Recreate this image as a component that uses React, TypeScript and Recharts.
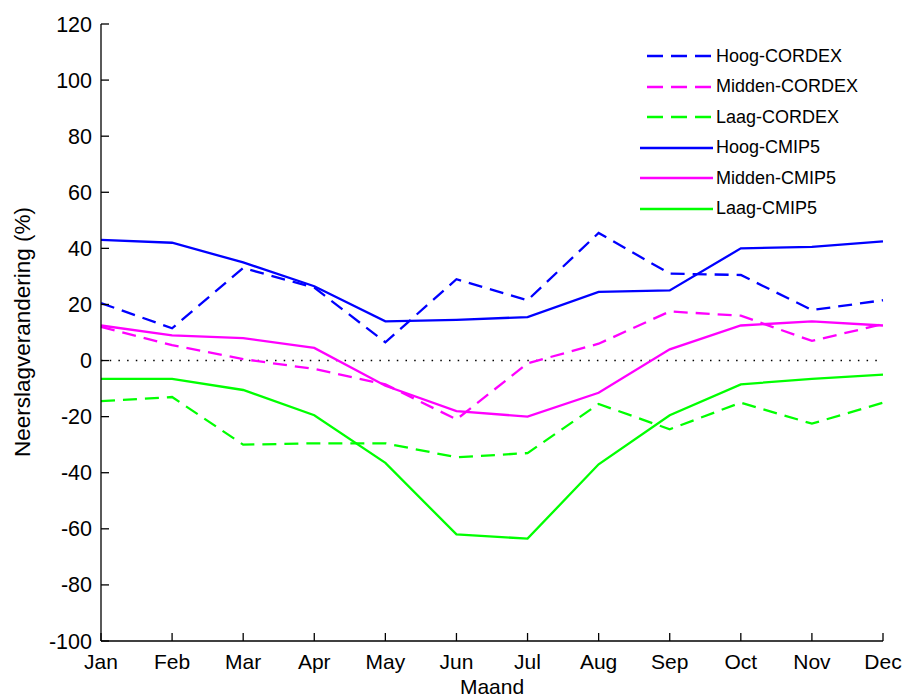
import React from "react";
import { LineChart, Line, XAxis, YAxis, ReferenceLine } from "recharts";

const months = ["Jan", "Feb", "Mar", "Apr", "May", "Jun", "Jul", "Aug", "Sep", "Oct", "Nov", "Dec"];

const hoogCordex = [20.5, 11.5, 33, 26, 6.5, 29, 21.5, 45.5, 31, 30.5, 18, 21.5];
const middenCordex = [12, 5.5, 0.5, -3, -8.5, -21, -1, 6, 17.5, 16, 7, 13];
const laagCordex = [-14.5, -13, -30, -29.5, -29.5, -34.5, -33, -15.5, -24.5, -15, -22.5, -15];
const hoogCmip5 = [43, 42, 35, 26.5, 14, 14.5, 15.5, 24.5, 25, 40, 40.5, 42.5];
const middenCmip5 = [12.5, 9, 8, 4.5, -9, -18, -20, -11.5, 4, 12.5, 14, 12.5];
const laagCmip5 = [-6.5, -6.5, -10.5, -19.5, -36.5, -62, -63.5, -37, -19.5, -8.5, -6.5, -5];

const yTicks = [-100, -80, -60, -40, -20, 0, 20, 40, 60, 80, 100, 120];

const BLUE = "#0000ff";
const MAGENTA = "#ff00ff";
const GREEN = "#00ff00";
const DASH = "14 8";
const FONT = "'Liberation Sans', Arial, sans-serif";

const series = [
  { key: "Hoog-CORDEX", values: hoogCordex, color: BLUE, dashed: true },
  { key: "Midden-CORDEX", values: middenCordex, color: MAGENTA, dashed: true },
  { key: "Laag-CORDEX", values: laagCordex, color: GREEN, dashed: true },
  { key: "Hoog-CMIP5", values: hoogCmip5, color: BLUE, dashed: false },
  { key: "Midden-CMIP5", values: middenCmip5, color: MAGENTA, dashed: false },
  { key: "Laag-CMIP5", values: laagCmip5, color: GREEN, dashed: false },
];

const data = months.map((m, i) => {
  const row: Record<string, string | number> = { month: m };
  series.forEach((s) => {
    row[s.key] = s.values[i];
  });
  return row;
});

// matlab-style ticks: short marks pointing into the plot, labels outside
function XTick({ x, y, payload }: any) {
  return (
    <g>
      <line x1={x} x2={x} y1={y} y2={y - 8} stroke="#000" strokeWidth={1.3} />
      <text x={x} y={y + 28} textAnchor="middle" fontSize={21} fontFamily={FONT} fill="#000">
        {payload.value}
      </text>
    </g>
  );
}

function YTick({ x, y, payload }: any) {
  return (
    <g>
      <line x1={x} x2={x + 8} y1={y} y2={y} stroke="#000" strokeWidth={1.3} />
      <text x={x - 9} y={y + 7.5} textAnchor="end" fontSize={21.5} fontFamily={FONT} fill="#000">
        {payload.value}
      </text>
    </g>
  );
}

// legend sits over the plot, so it lives outside the chart layout
function LegendBox() {
  return (
    <div
      style={{
        position: "absolute",
        left: 640,
        top: 41,
        fontFamily: FONT,
        fontSize: 18,
        color: "#000",
      }}
    >
      {series.map((s) => (
        <div key={s.key} style={{ display: "flex", alignItems: "center", height: 30.5 }}>
          <svg width={76} height={10}>
            <line
              x1={s.dashed ? 7 : 0}
              x2={73}
              y1={5}
              y2={5}
              stroke={s.color}
              strokeWidth={2.5}
              strokeDasharray={s.dashed ? "16 8" : undefined}
            />
          </svg>
          <span>{s.key}</span>
        </div>
      ))}
    </div>
  );
}

export default function App() {
  return (
    <div style={{ position: "absolute", left: 0, top: 0, width: 906, height: 700, background: "#fff" }}>
      <LineChart width={906} height={700} data={data} margin={{ top: 24, right: 23, bottom: 0, left: 0 }}>
        <XAxis
          dataKey="month"
          height={59}
          axisLine={{ stroke: "#000", strokeWidth: 1.3 }}
          tickLine={false}
          tickSize={0}
          tickMargin={0}
          tick={<XTick />}
          interval={0}
          label={{
            content: () => (
              <text x={492} y={694} textAnchor="middle" fontSize={21} fontFamily={FONT} fill="#000">
                Maand
              </text>
            ),
          }}
        />
        <YAxis
          width={101}
          domain={[-100, 120]}
          ticks={yTicks}
          interval={0}
          axisLine={{ stroke: "#000", strokeWidth: 1.3 }}
          tickLine={false}
          tickSize={0}
          tickMargin={0}
          tick={<YTick />}
          label={{
            content: () => (
              <text
                x={22}
                y={332}
                transform="rotate(-90, 22, 332)"
                textAnchor="middle"
                dominantBaseline="central"
                fontSize={22.5}
                fontFamily={FONT}
                fill="#000"
              >
                Neerslagverandering (%)
              </text>
            ),
          }}
        />
        <ReferenceLine y={0} stroke="#000" strokeWidth={1.5} strokeDasharray="1.5 7.2" />
        {series.map((s) => (
          <Line
            key={s.key}
            dataKey={s.key}
            type="linear"
            stroke={s.color}
            strokeWidth={2.3}
            strokeDasharray={s.dashed ? DASH : undefined}
            dot={false}
            activeDot={false}
            isAnimationActive={false}
          />
        ))}
      </LineChart>
      <LegendBox />
    </div>
  );
}
